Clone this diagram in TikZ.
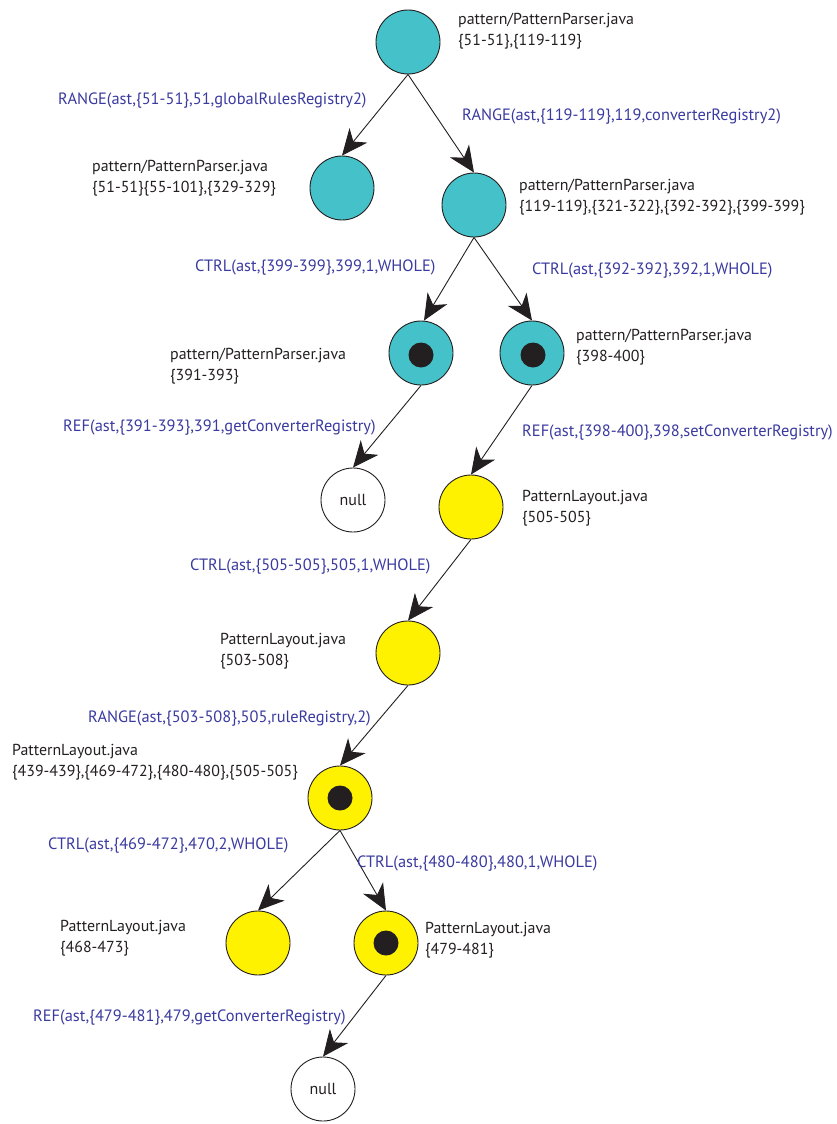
\documentclass[tikz,border=0pt]{standalone}
\usepackage{fontspec}
\setmainfont{PT Sans}
\usetikzlibrary{arrows.meta}
\definecolor{teal1}{RGB}{69,194,201}
\definecolor{yel}{RGB}{255,242,0}
\definecolor{lbl}{RGB}{58,58,160}
\definecolor{ink}{RGB}{35,31,32}
\tikzset{
  vert/.style={circle, draw=ink, line width=0.9pt, minimum size=64pt, inner sep=0pt},
  tnode/.style={vert, fill=teal1},
  ynode/.style={vert, fill=yel},
  nnode/.style={vert, fill=white, font=\fontsize{16}{18}\selectfont, text=ink},
  dotc/.style={circle, fill=ink, minimum size=25pt, inner sep=0pt},
  info/.style={anchor=west, align=left, inner sep=0pt, text=ink, font=\fontsize{15.9}{21}\selectfont},
  elab/.style={anchor=west, inner sep=0pt, text=lbl, font=\fontsize{16.4}{18}\selectfont},
  edge/.style={draw=ink, line width=0.9pt, -{Stealth[length=26pt, width=23pt, inset=8pt]}},
}
\begin{document}
\begin{tikzpicture}[x=1pt,y=-1pt]
\useasboundingbox (0,0) rectangle (837,1124);
% nodes
\node[tnode] (n1) at (408,42) {};
\node[tnode] (n2) at (342,188) {};
\node[tnode] (n3) at (474,205) {};
\node[tnode] (n4) at (421,353) {};
\node[dotc] (d4) at (421,355) {};
\node[tnode] (n5) at (532,353) {};
\node[dotc] (d5) at (533,355) {};
\node[nnode] (n6) at (353,500) {null};
\node[ynode] (n7) at (471,507) {};
\node[ynode] (n8) at (408,653) {};
\node[ynode] (n9) at (340,798) {};
\node[dotc] (d9) at (340,798) {};
\node[ynode] (n10) at (258,943) {};
\node[ynode] (n11) at (386,943) {};
\node[dotc] (d11) at (386,943) {};
\node[nnode] (n12) at (323,1089) {null};
% edges
\draw[edge] (n1.south) -- (n2.north);
\draw[edge] (n1.south) -- (n3.north);
\draw[edge] (n3.south) -- ([xshift=3pt]n4.north);
\draw[edge] (n3.south) -- (n5.north);
\draw[edge] (n4.south) -- (n6.north);
\draw[edge] (n5.south) -- (n7.north);
\draw[edge] (n7.south) -- (n8.north);
\draw[edge] (n8.south) -- (n9.north);
\draw[edge] (n9.south) -- (n10.north);
\draw[edge] (n9.south) -- (n11.north);
\draw[edge] (n11.south) -- (n12.north);
% info texts
\node[info] (t1) at (458,31) {pattern/PatternParser.java\\\{51-51\},\{119-119\}};
\node[info] (t2) at (92,178) {pattern/PatternParser.java\\\{51-51\}\{55-101\},\{329-329\}};
\node[info] (t3) at (519,197) {pattern/PatternParser.java\\\{119-119\},\{321-322\},\{392-392\},\{399-399\}};
\node[info] (t4) at (170,366) {pattern/PatternParser.java\\\{391-393\}};
\node[info] (t5) at (576,347) {pattern/PatternParser.java\\\{398-400\}};
\node[info] (t7) at (522,508) {PatternLayout.java\\\{505-505\}};
\node[info] (t8) at (220,651) {PatternLayout.java\\\{503-508\}};
\node[info] (t9) at (12,762) {PatternLayout.java\\\{439-439\},\{469-472\},\{480-480\},\{505-505\}};
\node[info] (t10) at (60,938) {PatternLayout.java\\\{468-473\}};
\node[info] (t11) at (425,940) {PatternLayout.java\\\{479-481\}};
% edge labels
\node[elab] (l1) at (58,101) {RANGE(ast,\{51-51\},51,globalRulesRegistry2)};
\node[elab] (l2) at (462,117) {RANGE(ast,\{119-119\},119,converterRegistry2)};
\node[elab] (l3) at (195,268) {CTRL(ast,\{399-399\},399,1,WHOLE)};
\node[elab] (l4) at (532,271) {CTRL(ast,\{392-392\},392,1,WHOLE)};
\node[elab] (l5) at (63,428) {REF(ast,\{391-393\},391,getConverterRegistry)};
\node[elab] (l6) at (522,433) {REF(ast,\{398-400\},398,setConverterRegistry)};
\node[elab] (l7) at (190,567) {CTRL(ast,\{505-505\},505,1,WHOLE)};
\node[elab] (l8) at (88,719) {RANGE(ast,\{503-508\},505,ruleRegistry,2)};
\node[elab] (l9) at (48,846) {CTRL(ast,\{469-472\},470,2,WHOLE)};
\node[elab] (l10) at (357,864) {CTRL(ast,\{480-480\},480,1,WHOLE)};
\node[elab] (l11) at (33,1018) {REF(ast,\{479-481\},479,getConverterRegistry)};
\end{tikzpicture}
\end{document}
